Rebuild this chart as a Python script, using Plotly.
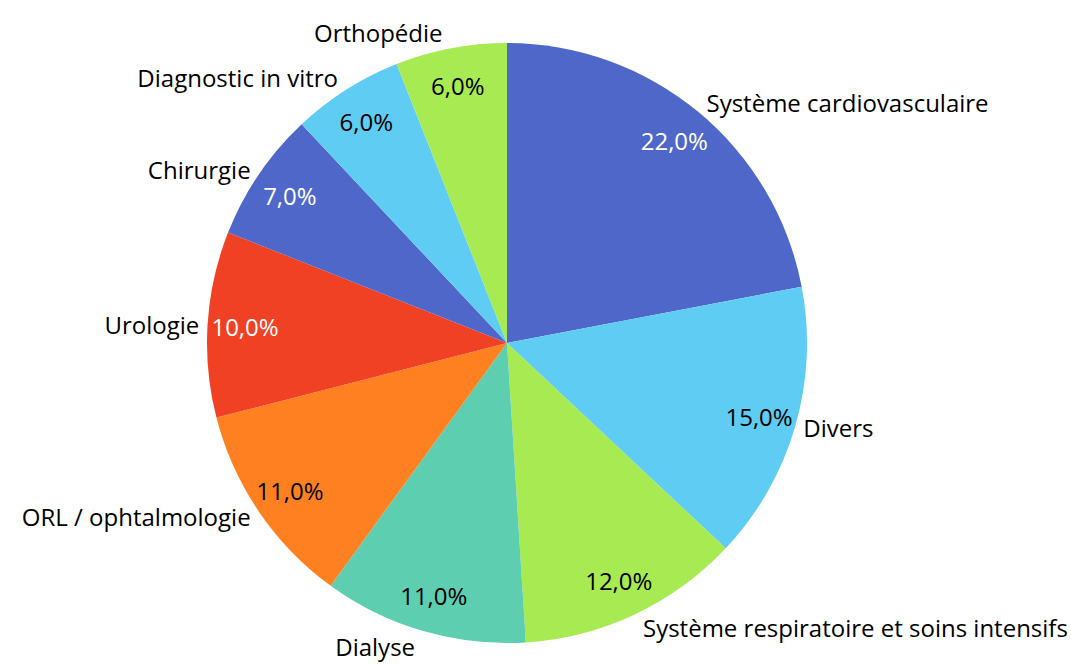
import plotly.graph_objects as go

labels = ["Système cardiovasculaire", "Divers", "Système respiratoire et soins intensifs",
          "Dialyse", "ORL / ophtalmologie", "Urologie", "Chirurgie",
          "Diagnostic in vitro", "Orthopédie"]
values = [22, 15, 12, 11, 11, 10, 7, 6, 6]
colors = ["#4E67C8", "#5ECCF3", "#A7EA52", "#5DCEAF", "#FF8021",
          "#F14124", "#4E67C8", "#5ECCF3", "#A7EA52"]
pct_colors = ["white", "black", "black", "black", "black", "white", "white", "black", "black"]

FONT = "Open Sans"
dom = dict(x=[0, 1014 / 1071], y=[0, 1])

fig = go.Figure()
# colored slices
fig.add_trace(go.Pie(
    labels=labels, values=values, sort=False, direction="clockwise", rotation=0,
    marker=dict(colors=colors, line=dict(color="white", width=0)),
    textinfo="none", hoverinfo="label+percent", domain=dom, showlegend=False,
    automargin=False,
))
# percentage labels near outer edge (inside end)
fig.add_trace(go.Pie(
    labels=labels, values=values, sort=False, direction="clockwise", rotation=0,
    hole=0.75,
    marker=dict(colors=["rgba(0,0,0,0)"] * len(values), line=dict(width=0)),
    texttemplate="%{percent:.1%}", textposition="inside", insidetextorientation="horizontal",
    textfont=dict(family=FONT, size=24, color=pct_colors),
    hoverinfo="skip", domain=dom, showlegend=False, automargin=False,
))
# category labels outside
fig.add_trace(go.Pie(
    labels=labels, values=values, sort=False, direction="clockwise", rotation=0,
    marker=dict(colors=["rgba(0,0,0,0)"] * len(values), line=dict(width=0)),
    textinfo="label", textposition="outside",
    outsidetextfont=dict(family=FONT, size=24, color="black"),
    hoverinfo="skip", domain=dom, showlegend=False, automargin=False,
))

fig.update_layout(
    width=1071, height=664,
    margin=dict(l=0, r=0, t=43, b=21, autoexpand=False),
    paper_bgcolor="white", plot_bgcolor="white",
    separators=", ",
    uniformtext=dict(minsize=24, mode="show"),
    font=dict(family=FONT, size=24, color="black"),
)
fig.write_html(
    "out.html",
    config={"displayModeBar": False},
    post_script="document.body.style.margin='0';document.body.style.overflow='hidden';",
)
